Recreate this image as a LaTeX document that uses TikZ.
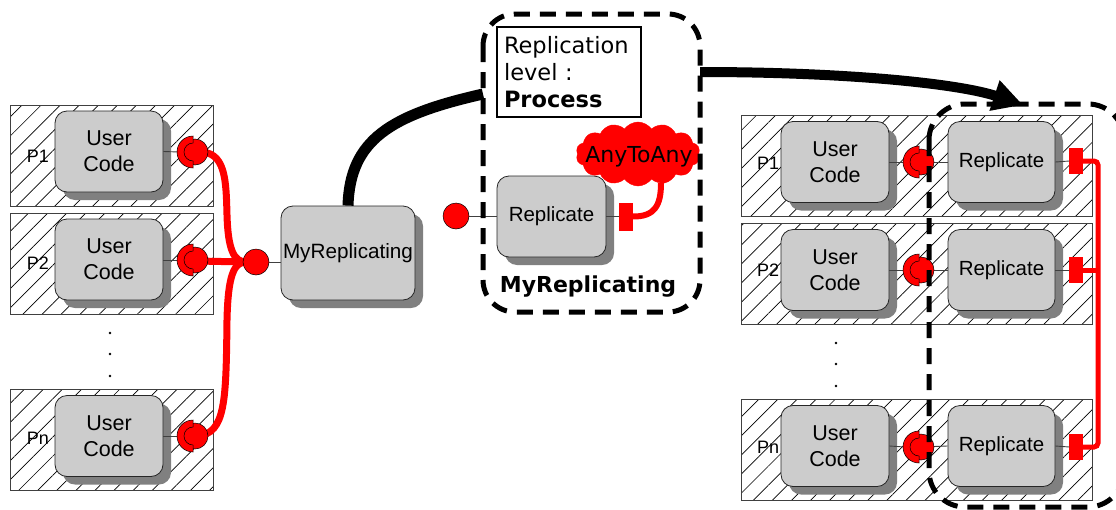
\documentclass[tikz,border=0pt]{standalone}
\usepackage{fontspec}
\setmainfont{Liberation Sans}
\newfontfamily\dejavu{DejaVu Sans}
\usetikzlibrary{patterns.meta,shapes.symbols,arrows.meta,shadows}
\tikzset{
  proc/.style={draw=black!75, line width=0.9pt, rectangle, minimum width=#1, minimum height=101pt, inner sep=0pt,
    pattern={Lines[angle=45,distance=13.5pt,line width=0.7pt]}},
  comp/.style={draw=black!85, line width=0.8pt, fill=black!20, rounded corners=12pt, inner sep=0pt,
    minimum width=108pt, minimum height=81pt, align=center,
    drop shadow={shadow xshift=8pt, shadow yshift=-8pt, fill=black!50, opacity=1}},
  uctext/.style={font=\fontsize{21.5}{26}\selectfont},
  reptext/.style={font=\fontsize{20.5}{24}\selectfont},
  plabel/.style={font=\fontsize{18}{20}\selectfont, inner sep=0pt},
  dotn/.style={circle, fill=black, inner sep=0pt, minimum size=2.6pt},
  ball/.style={circle, fill=red, draw=black, line width=0.5pt, inner sep=0pt, minimum size=#1},
  plug/.style={rectangle, fill=red, draw=red, inner sep=0pt, minimum width=13pt, minimum height=26pt},
  thin link/.style={draw=black!75, line width=0.9pt},
  redwire/.style={draw=red, line width=7pt},
  redbus/.style={draw=red, line width=5pt, rounded corners=4pt},
  dashbox/.style={draw=black, line width=5pt, dash pattern=on 16pt off 10pt, rounded corners=32pt},
  sock/.pic={
    \node[ball=26pt] (-b) at (3,0) {};
    \draw[fill=red, draw=black, line width=0.5pt] (1,-16) arc[start angle=-90, end angle=-270, radius=16]
      -- (1,9) arc[start angle=90, end angle=270, radius=9] -- cycle;
  }
}
\begin{document}
\begin{tikzpicture}[x=1pt, y=-1pt]
\clip (0,0) rectangle (1116,509);
\fill[white] (0,0) rectangle (1116,509);

% ---------------- left: processes ----------------
\node[proc=203pt] (L1) at (111.5,155.5) {};
\node[proc=203pt] (L2) at (111.5,264) {};
\node[proc=203pt] (Ln) at (111.5,439.5) {};
\node[plabel] (lp1) at (38,156) {P1};
\node[plabel] (lp2) at (38,263) {P2};
\node[plabel] (lpn) at (38,438) {Pn};
\node[comp, uctext] (uc1) at (109,151.5) {User\\Code};
\node[comp, uctext] (uc2) at (109,259.5) {User\\Code};
\node[comp, uctext] (ucn) at (109,436) {User\\Code};
\node[dotn] (d1) at (110,333) {};
\node[dotn] (d2) at (110,354) {};
\node[dotn] (d3) at (110,376) {};

\coordinate (jn) at (246,262);

% connectors left
\draw[thin link] (uc1.east) -- (179,152);
\draw[thin link] (uc2.east |- 260,260) -- (179,260);
\draw[thin link] (ucn.east) -- (179,436);
\draw[redwire] (197,152) .. controls (226,150) and (226,180) .. (227,215)
   .. controls (228,250) and (234,262) .. (jn);
\draw[redwire] (197,436) .. controls (226,434) and (226,400) .. (227,320)
   .. controls (228,275) and (234,262) .. (jn);
\draw[redwire] (197,261) -- (jn);
\pic (s1) at (192,152) {sock};
\pic (s2) at (192,260) {sock};
\pic (sn) at (192,436) {sock};
\node[ball=26pt] (lpb) at (256,262) {};

% MyReplicating
\node[comp, minimum width=134pt, minimum height=94pt, font=\fontsize{20.7}{24}\selectfont] (mr) at (348,253) {MyReplicating};
\draw[thin link] (lpb.east) -- (lpb.east -| mr.west);

% ---------------- middle: composite ----------------
\node[ball=26pt] (mb) at (456,216) {};
\node[comp, reptext, minimum width=109pt] (rp0) at (551.5,216.5) {Replicate};
\node[plug, minimum height=27pt] (pl0) at (625.5,216.5) {};
\draw[thin link] (mb.east) -- (mb.east -| rp0.west);
\draw[thin link] (rp0.east) -- (pl0.west);
\node[cloud, cloud puffs=14, cloud puff arc=110, aspect=2.1, fill=red, draw=red, inner sep=0pt,
      minimum width=124pt, minimum height=64pt] (cl) at (638,154) {};
\node[font=\dejavu\fontsize{22}{24}\selectfont, inner sep=0pt] (clt) at (639,157) {AnyToAny};
\draw[draw=red, line width=6pt] (pl0.east) .. controls (655,217) and (661,205) .. (661,183);
\node[draw=black, line width=2.5pt, minimum width=144pt, minimum height=90pt, text width=130pt,
      inner sep=0pt, align=left, font=\dejavu\fontsize{22.5}{27}\selectfont] (rl) at (569,72)
      {Replication\\level :\\\textbf{Process}};
\node[font=\dejavu\bfseries\fontsize{22}{24}\selectfont, inner sep=0pt] (mrl) at (588,287) {MyReplicating};
\draw[dashbox] (483,14) rectangle (700,312);
\coordinate (db1w) at (483,94);
\coordinate (db1e) at (700,72);
\draw[line width=11pt] (mr.north) .. controls (350,140) and (390,115) .. (db1w);

% ---------------- right: processes ----------------
\node[proc=351pt] (R1) at (916.5,165.5) {};
\node[proc=351pt] (R2) at (916.5,273.5) {};
\node[proc=351pt] (Rn) at (916.5,449.5) {};
\node[plabel] (rp1l) at (768,163) {P1};
\node[plabel] (rp2l) at (768,270) {P2};
\node[plabel] (rpnl) at (768,447) {Pn};
\node[comp, uctext] (ru1) at (835,162) {User\\Code};
\node[comp, uctext] (ru2) at (835,270) {User\\Code};
\node[comp, uctext] (run) at (835,446) {User\\Code};
\node[comp, reptext, minimum width=107pt] (rr1) at (1001.5,162) {Replicate};
\node[comp, reptext, minimum width=107pt] (rr2) at (1001.5,270) {Replicate};
\node[comp, reptext, minimum width=107pt] (rrn) at (1001.5,446) {Replicate};
\node[plug, minimum height=25pt] (rq1) at (1076,161) {};
\node[plug, minimum height=25pt] (rq2) at (1076,270) {};
\node[plug, minimum height=25pt] (rqn) at (1076,447) {};
\node[dotn] (e1) at (836,343) {};
\node[dotn] (e2) at (836,364) {};
\node[dotn] (e3) at (836,386) {};
\draw[thin link] (ru1.east) -- (905,162);
\draw[thin link] (ru2.east) -- (905,270);
\draw[thin link] (run.east) -- (905,447);
\draw[thin link] (920,162) -- (rr1.west);
\draw[thin link] (920,270) -- (rr2.west);
\draw[thin link] (920,447) -- (rrn.west);
\draw[thin link] (rr1.east) -- (rq1.west);
\draw[thin link] (rr2.east) -- (rq2.west);
\draw[thin link] (rrn.east) -- (rqn.west);
\pic (t1) at (918,162) {sock};
\pic (t2) at (918,270) {sock};
\pic (tn) at (918,447) {sock};
\draw[redbus] (rq1.east) -- (1098,161) -- (1098,447) -- (rqn.east);
\draw[redbus] (rq2.east) -- (1098,270);

\draw[dashbox, rounded corners=36pt] (929,104) rectangle (1124,507);
\coordinate (db2t) at (1023,105);
\draw[line width=10pt, -{Triangle[length=30pt, width=30pt]}] (db1e) .. controls (850,72) and (960,84) .. (db2t);
\end{tikzpicture}
\end{document}
